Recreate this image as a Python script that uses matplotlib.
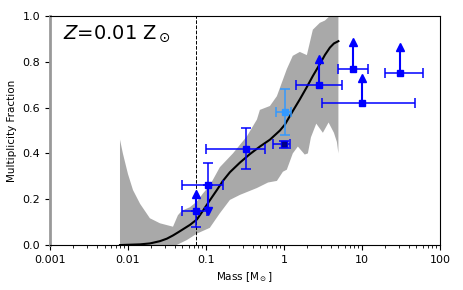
import matplotlib
matplotlib.use('Agg')
import matplotlib.pyplot as plt
import numpy as np
from matplotlib.ticker import FixedLocator, FixedFormatter

# model curve (mass in Msun, multiplicity fraction)
curve_m = [0.0079, 0.0143, 0.0191, 0.0257, 0.0316, 0.0378, 0.0437, 0.0492,
           0.0623, 0.0767, 0.0915, 0.112, 0.138, 0.165, 0.203, 0.273, 0.366,
           0.492, 0.662, 0.889, 1.03, 1.30, 1.60, 1.97, 2.35, 2.89, 3.36,
           3.89, 4.38, 5.0]
curve_f = [0.0, 0.003, 0.007, 0.017, 0.028, 0.042, 0.055, 0.066,
           0.088, 0.112, 0.15, 0.195, 0.24, 0.28, 0.318, 0.36, 0.397,
           0.43, 0.46, 0.50, 0.526, 0.585, 0.636, 0.69, 0.738, 0.79, 0.83,
           0.862, 0.88, 0.89]

# spread of the model (upper / lower envelope)
band_up_m = [0.0079, 0.0086, 0.0100, 0.0116, 0.0143, 0.0191, 0.0257, 0.0378,
             0.0437, 0.0492, 0.0623, 0.0767, 0.0915, 0.112, 0.151, 0.222,
             0.336, 0.451, 0.492, 0.662, 0.813, 1.09, 1.30, 1.60, 1.97,
             2.35, 2.89, 3.36, 3.89, 5.0]
band_up_f = [0.46, 0.40, 0.31, 0.24, 0.18, 0.117, 0.095, 0.08,
             0.13, 0.15, 0.165, 0.19, 0.225, 0.26, 0.34, 0.40,
             0.475, 0.548, 0.59, 0.607, 0.65, 0.768, 0.826, 0.843, 0.829,
             0.94, 0.97, 0.98, 1.0, 1.02]
band_lo_m = [0.0079, 0.042, 0.057, 0.0767, 0.112, 0.151, 0.203, 0.273,
             0.451, 0.626, 0.813, 0.971, 1.09, 1.30, 1.51, 1.85, 2.03,
             2.22, 2.60, 3.16, 3.74, 4.38, 4.78, 5.0]
band_lo_f = [0.0, 0.0, 0.022, 0.05, 0.075, 0.139, 0.197, 0.219,
             0.249, 0.273, 0.28, 0.32, 0.329, 0.40, 0.43, 0.395, 0.40,
             0.47, 0.53, 0.49, 0.535, 0.49, 0.45, 0.40]

# observations: two-sided error bars
obs_m = [0.33, 1.0]
obs_f = [0.42, 0.44]
obs_xlo = [0.10, 0.72]
obs_xhi = [0.57, 1.19]
obs_ylo = [0.33, 0.425]
obs_yhi = [0.51, 0.455]

# light blue point
lb_m, lb_f = 1.03, 0.58
lb_x = (0.80, 1.22)
lb_y = (0.48, 0.68)

# lower limits (arrow up)
lim_m = [0.075, 2.8, 7.75, 10.1, 30.4]
lim_f = [0.15, 0.70, 0.77, 0.62, 0.75]
lim_top = [0.225, 0.81, 0.885, 0.73, 0.865]
lim_xlo = [0.050, 1.41, 5.0, 3.04, 20.0]
lim_xhi = [0.102, 5.5, 11.9, 47.9, 60.0]

# point with an upper cap and a downward arrow
dn_m, dn_f = 0.105, 0.26
dn_x = (0.050, 0.164)
dn_top, dn_bot = 0.36, 0.15

bd_mass = 0.075

fig = plt.figure(figsize=(4.63, 2.9), dpi=100)
ax = fig.add_axes([0.108, 0.155, 0.842, 0.79])

ax.fill(np.concatenate([band_up_m, band_lo_m[::-1]]),
        np.concatenate([band_up_f, band_lo_f[::-1]]),
        color='darkgray', lw=0, zorder=1)
ax.plot(curve_m, curve_f, color='k', lw=1.5, zorder=3)
ax.axvline(bd_mass, color='k', ls='--', lw=0.7, zorder=2)

blue = '#0000ff'
ekw = dict(fmt='none', ecolor=blue, elinewidth=1.1, capsize=3.5,
           capthick=1.1, zorder=4)

m = np.array(obs_m)
ax.errorbar(m, obs_f,
            xerr=[m - np.array(obs_xlo), np.array(obs_xhi) - m],
            yerr=[np.array(obs_f) - np.array(obs_ylo),
                  np.array(obs_yhi) - np.array(obs_f)], **ekw)
ax.plot(m, obs_f, 's', color=blue, ms=4.5, zorder=5)
ax.plot(obs_m[1], obs_f[1], 's', color='#000088', ms=2.5, zorder=6)

lb = '#3399ff'
ax.errorbar(lb_m, lb_f, xerr=[[lb_m - lb_x[0]], [lb_x[1] - lb_m]],
            yerr=[[lb_f - lb_y[0]], [lb_y[1] - lb_f]],
            fmt='s', color=lb, ms=4.5, elinewidth=1.1, capsize=3.5,
            capthick=1.1, zorder=5)

lm = np.array(lim_m)
lf = np.array(lim_f)
ax.errorbar(lm, lf, xerr=[lm - np.array(lim_xlo), np.array(lim_xhi) - lm],
            **ekw)
for x0, y0, y1 in zip(lim_m, lim_f, lim_top):
    ax.plot([x0, x0], [y0, y1], color=blue, lw=1.5, zorder=4)
ax.plot(lim_m, lim_top, '^', color=blue, ms=6, zorder=5)
ax.plot(lm, lf, 's', color=blue, ms=4.5, zorder=5)
# lower error bar of the brown-dwarf-limit point
ax.errorbar(lim_m[0], lim_f[0], yerr=[[0.07], [0]], **ekw)

ax.errorbar(dn_m, dn_f, xerr=[[dn_m - dn_x[0]], [dn_x[1] - dn_m]],
            yerr=[[0], [dn_top - dn_f]], **ekw)
ax.plot([dn_m, dn_m], [dn_f, dn_bot], color=blue, lw=1.5, zorder=4)
ax.plot(dn_m, dn_bot, 'v', color=blue, ms=6, zorder=5)
ax.plot(dn_m, dn_f, 's', color=blue, ms=4.5, zorder=5)

ax.set_xscale('log')
ax.set_xlim(0.001, 100)
ax.set_ylim(0, 1)
ax.xaxis.set_major_locator(FixedLocator([0.001, 0.01, 0.1, 1, 10, 100]))
ax.xaxis.set_major_formatter(
    FixedFormatter(['0.001', '0.01', '0.1', '1', '10', '100']))
ax.set_yticks([0, 0.2, 0.4, 0.6, 0.8, 1.0])
ax.set_yticklabels(['0.0', '0.2', '0.4', '0.6', '0.8', '1.0'])
ax.tick_params(labelsize=8)
ax.set_xlabel(r'Mass [M$_\odot$]', fontsize=7.5)
ax.set_ylabel('Multiplicity Fraction', fontsize=7.5)
ax.spines['left'].set_color('#999999')
ax.spines['left'].set_linewidth(2)

ax.text(0.033, 0.9, r'$Z$=0.01 Z$_\odot$', transform=ax.transAxes,
        fontsize=14)

fig.savefig('out.png', dpi=100)
